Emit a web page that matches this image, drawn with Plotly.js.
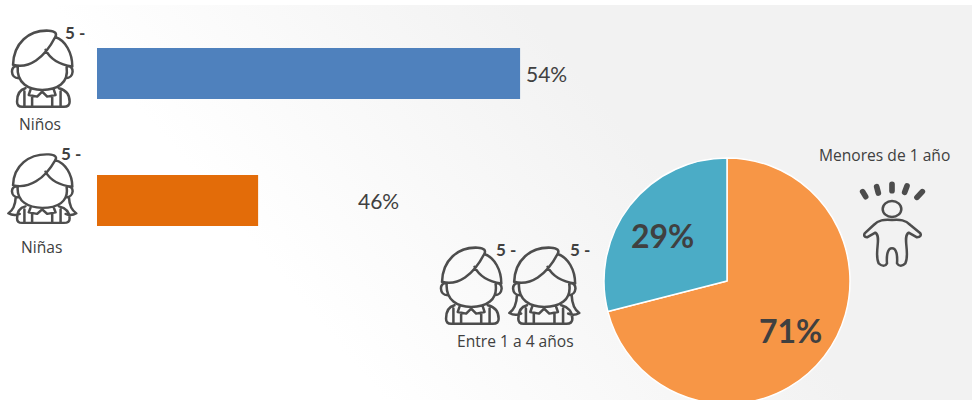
<!DOCTYPE html>
<html lang="es">
<head>
<meta charset="utf-8">
<title>Niños y niñas menores de 5 años</title>
<script src="https://cdn.plot.ly/plotly-3.0.1.min.js"></script>
<style>
  html, body { margin: 0; padding: 0; width: 972px; height: 400px; overflow: hidden; background: #fff; }
  #chart {
    width: 972px; height: 410px;
    background: linear-gradient(50deg, #ffffff 300px, #f2f2f2 660px) no-repeat 0 5px / 972px 405px;
  }
</style>
</head>
<body>
<div id="chart"></div>
<script>
// Sex split of under-fives
const sexCategories = ['Niños', 'Niñas'];
const sexValues = [54, 46];
const sexColors = ['#4F81BD', '#E36C09'];

// Age split of under-fives
const ageCategories = ['Menores de 1 año', 'Entre 1 a 4 años'];
const ageValues = [71, 29];
const ageColors = ['#F79646', '#4BACC6'];

const W = 972, H = 410;
const px = x => x / W;
const py = y => 1 - y / H;

// Line icons, drawn as small SVG pictures
const stroke = 'fill="none" stroke="#4d4d4d" stroke-width="7.5" stroke-linecap="round" stroke-linejoin="round"';
const childBase =
  'M38 165C40 100 85 60 145 63C164 64 170 72 164 82C195 92 215 130 215 170' +
  'M38 165C85 178 132 145 164 82M135 120C150 150 180 165 215 170' +
  'M52 170C48 220 85 240 125 240C170 240 205 220 198 172' +
  'M50 170C30 165 28 205 55 205M200 170C222 165 222 205 195 205' +
  'M75 235C55 240 50 255 50 275Q50 290 65 290H190Q207 290 207 275C207 255 195 240 175 235' +
  'M90 240L85 255L110 260L125 245L140 260L165 255L160 240' +
  'M72 245V290M95 258V290M155 258V290M180 245V290';
const girlLocks =
  'M46 205C45 232 38 248 24 258Q40 268 58 260M205 205C206 232 213 248 227 258Q212 268 195 260';
const babyBody =
  'M245 240C220 238 205 240 190 255L163 280Q158 290 170 292L195 278C215 290 190 340 205 370' +
  'Q222 385 230 370C228 345 232 325 245 325C258 325 262 345 260 370Q270 385 285 370' +
  'C300 340 275 290 295 278L320 292Q335 290 330 280L300 255C285 240 270 238 245 240Z';
const babyRays = 'M157 155L166 170M199 140L204 159M245 133V152M290 138L283 157M336 155L320 172';

const svgUri = (box, inner) => 'data:image/svg+xml;utf8,' + encodeURIComponent(
  `<svg xmlns="http://www.w3.org/2000/svg" viewBox="${box}" preserveAspectRatio="none">${inner}</svg>`);

const boyIcon = svgUri('20 55 215 245', `<path d="${childBase}" ${stroke}/>`);
const girlIcon = svgUri('20 55 215 245', `<path d="${childBase}${girlLocks}" ${stroke}/>`);
const babyIcon = svgUri('140 120 210 270',
  `<path d="${babyBody}" ${stroke}/><ellipse cx="245" cy="207" rx="28" ry="24" ${stroke}/>` +
  `<path d="${babyRays}" fill="none" stroke="#4d4d4d" stroke-width="17" stroke-linecap="round"/>`);

const icon = (source, x, y, w, h) => ({
  source, xref: 'paper', yref: 'paper', x: px(x), y: py(y),
  sizex: w / W, sizey: h / H, xanchor: 'left', yanchor: 'top', sizing: 'stretch', layer: 'above'
});

const textColor = '#404040';
const note = (text, x, y, size, bold, family) => ({
  text: bold ? `<b>${text}</b>` : text, xref: 'paper', yref: 'paper', x: px(x), y: py(y),
  xanchor: 'center', yanchor: 'middle', showarrow: false,
  font: { family: family || '"Open Sans", sans-serif', size, color: textColor }
});

const barTrace = {
  type: 'bar', orientation: 'h',
  y: sexCategories, x: sexValues,
  width: 0.4,
  marker: { color: sexColors },
  hoverinfo: 'y+x'
};

const pieTrace = {
  type: 'pie',
  labels: ageCategories, values: ageValues,
  sort: false, direction: 'clockwise', rotation: 0,
  marker: { colors: ageColors, line: { color: '#ffffff', width: 1.5 } },
  textinfo: 'none',
  domain: { x: [px(604), px(850)], y: [py(404), py(158)] },
  showlegend: false
};

const valueNote = (i, shift) => ({
  x: sexValues[i], y: sexCategories[i], xref: 'x', yref: 'y',
  text: sexValues[i] + '%', showarrow: false, xanchor: 'left', xshift: shift,
  font: { family: 'Lato, sans-serif', size: 21, color: textColor }
});

const layout = {
  width: W, height: H,
  margin: { l: 0, r: 0, t: 0, b: 0 },
  paper_bgcolor: 'rgba(0,0,0,0)', plot_bgcolor: 'rgba(0,0,0,0)',
  showlegend: false,
  xaxis: { domain: [px(97), 1], range: [41.08, 67.8], visible: false, fixedrange: true },
  yaxis: { domain: [py(264), py(10)], type: 'category', autorange: 'reversed', visible: false, fixedrange: true },
  images: [
    icon(boyIcon, 7, 28, 72, 82),
    icon(girlIcon, 7, 152, 72, 74),
    icon(boyIcon, 436, 245, 72, 82),
    icon(girlIcon, 508, 245, 74, 82),
    icon(babyIcon, 857, 180, 70, 90)
  ],
  annotations: [
    valueNote(0, 4),
    valueNote(1, 98),
    note(ageValues[0] + '%', 790, 330, 32, true, 'Lato, sans-serif'),
    note(ageValues[1] + '%', 662, 236, 32, true, 'Lato, sans-serif'),
    note('Niños', 40, 124, 15.6),
    note('Niñas', 41, 247, 15.6),
    note('Entre 1 a 4 años', 515, 341, 15.6),
    note('Menores de 1 año', 884, 155, 15.6),
    note('5 -', 75, 33, 17, true, 'Lato, sans-serif'),
    note('5 -', 71, 153, 17, true, 'Lato, sans-serif'),
    note('5 -', 506, 249, 17, true, 'Lato, sans-serif'),
    note('5 -', 580, 249, 17, true, 'Lato, sans-serif')
  ]
};

Plotly.newPlot('chart', [barTrace, pieTrace], layout, { displayModeBar: false, staticPlot: true });
</script>
</body>
</html>
